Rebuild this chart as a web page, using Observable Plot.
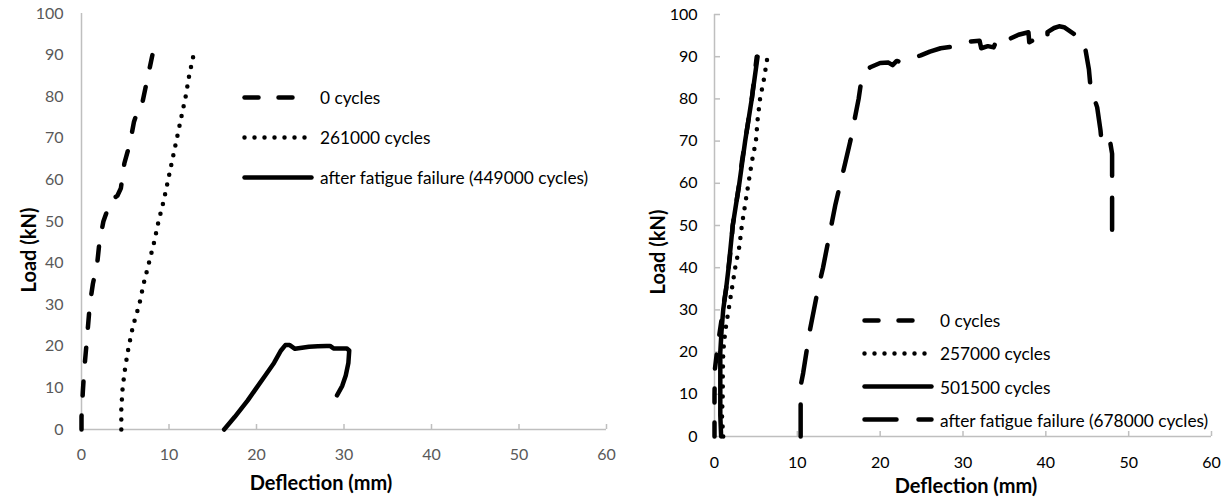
<!DOCTYPE html>
<html><head><meta charset="utf-8">
<script src="https://cdn.jsdelivr.net/npm/d3@7"></script>
<script src="https://cdn.jsdelivr.net/npm/@observablehq/plot@0.6"></script>
<style>
body{margin:0;background:#fff;font-family:Lato,"Open Sans",sans-serif;}
#wrap{position:relative;width:1228px;height:498px;overflow:hidden;background:#fff;}
.panel{position:absolute;top:0;}
.ytitle{position:absolute;transform:translate(-50%,-50%) rotate(-90deg);font-weight:bold;font-size:20px;white-space:nowrap;color:#000;}
.xtitle{position:absolute;transform:translate(-50%,-50%);font-weight:bold;font-size:20px;white-space:nowrap;color:#000;}
.lg{position:absolute;display:flex;align-items:center;transform:translateY(-50%);font-size:17.3px;white-space:nowrap;color:#000;}
.lg svg{display:block;margin-right:6px;}
</style>
</head><body>
<div id="wrap"></div>
<script>
// ---------- data ----------
const xTicks = [0, 10, 20, 30, 40, 50, 60];
const yTicks = [0, 10, 20, 30, 40, 50, 60, 70, 80, 90, 100];

// Left panel
const leftNames = ["0 cycles", "261000 cycles", "after fatigue failure (449000 cycles)"];
const L0_x = [0, 0, 0.15, 0.3, 0.55, 0.75, 0.95, 1.3, 1.8, 2.05, 2.5, 3.0, 3.3, 4.1, 4.5, 4.9, 5.3, 5.6, 6.0, 6.5, 6.9, 7.0, 7.3, 7.6, 7.9, 8.1];
const L0_y = [0, 3, 9, 14, 20, 25, 30, 35, 40, 45, 50, 53, 55, 56.2, 58, 64, 67, 69.5, 74, 77, 77.5, 79, 82, 85, 88, 90];
const L1_x = [4.55, 4.55, 4.7, 5.0, 5.4, 5.9, 6.6, 7.1, 7.7, 8.3, 8.8, 9.4, 9.9, 10.4, 10.9, 11.4, 11.9, 12.3, 12.8];
const L1_y = [0, 5, 10, 15, 20, 25, 30, 35, 40, 45, 50, 55, 60, 65, 70, 75, 80, 85, 90];
const L2_x = [16.3, 17.5, 19, 20, 21, 22, 22.8, 23.3, 23.8, 24.4, 25, 26, 27, 28, 28.4, 28.8, 30.3, 30.6, 30.5, 30.2, 29.8, 29.2];
const L2_y = [0, 3, 7, 10, 13, 16, 19, 20.3, 20.3, 19.4, 19.6, 19.9, 20, 20.1, 20.1, 19.5, 19.5, 19, 16, 13, 10.5, 8.2];

// Right panel
const rightNames = ["0 cycles", "257000 cycles", "501500 cycles", "after fatigue failure (678000 cycles)"];
const R0_x = [0, 0, 0, 0.05, 0.3, 0.5, 0.8, 1.0, 1.4, 1.7, 2.0, 2.2, 2.6, 3.0, 3.3, 3.7, 4.1, 4.5, 4.8, 5.1];
const R0_y = [0, 5, 10, 16, 20, 23, 27, 30, 35, 40, 45, 50, 55, 60, 65, 70, 75, 80, 85, 90];
const R1_x = [1.05, 0.9, 1.0, 1.0, 1.05, 1.3, 1.7, 2.1, 2.5, 3.0, 3.3, 3.7, 4.1, 4.5, 5.0, 5.2, 5.5, 6.0, 6.4];
const R1_y = [0, 5, 10, 15, 20, 25, 30, 35, 40, 45, 50, 55, 60, 65, 70, 75, 80, 85, 90];
const R2_x = [0.8, 0.7, 0.7, 0.7, 0.7, 0.85, 1.05, 1.4, 1.7, 1.95, 2.2, 2.6, 3.0, 3.35, 3.7, 4.1, 4.5, 4.85, 5.2];
const R2_y = [0, 5, 10, 15, 20, 25, 30, 35, 40, 45, 50, 55, 60, 65, 70, 75, 80, 85, 90];
const R3_x = [10.4, 10.4, 10.4, 10.7, 11.1, 11.5, 12.0, 12.5, 13.1, 13.6, 14.1, 14.6, 15.2, 15.8, 16.4, 16.9, 17.4, 17.7, 18.2, 18.8, 20, 21, 21.5, 22, 22.5, 23.3, 24.9, 26, 27.3, 28.5, 30.5, 32, 32.2, 33, 33.7, 34.2, 35.4, 36.7, 37.9, 38, 39, 40.2, 40.2, 41, 41.6, 42.2, 43.4, 44.2, 44.4, 44.8, 45.2, 45.4, 46.2, 46.6, 46.8, 47.5, 47.8, 48, 48, 48, 48];
const R3_y = [0, 6, 12, 15, 20, 25, 30, 35, 40, 45, 50, 55, 60, 65, 70, 75, 80, 84, 86.5, 87.5, 88.5, 88.6, 88, 89, 88.7, 89.4, 90.3, 91.2, 92, 92.3, 93.5, 93.8, 92, 92.5, 92.2, 94.6, 94, 95.2, 95.8, 93.4, 94.5, 94, 95.8, 96.8, 97.2, 97, 95.4, 94.6, 93, 91.5, 87, 82.7, 78, 72.5, 68.5, 69, 69.4, 67, 63.8, 55, 46.4];

// ---------- helpers ----------
const zip = (xs, ys) => xs.map((x, i) => ({x, y: ys[i]}));
const DASH = "14,20", DOT = "0,10", SOLID = null, LONGDASH = "32,22";
const SW = 4.5;
const AXIS = "#bfbfbf";

function seriesMark(xs, ys, dash) {
  const o = {x: "x", y: "y", stroke: "#000", strokeWidth: SW, strokeLinecap: "round", strokeLinejoin: "round"};
  if (dash) o.strokeDasharray = dash;
  return Plot.line(zip(xs, ys), o);
}

function panel(opts, series) {
  const marks = [
    Plot.ruleY([0], {stroke: AXIS, strokeWidth: 1.5}),
    Plot.ruleX([0], {stroke: AXIS, strokeWidth: 1.5}),
    Plot.ruleX(xTicks.filter(d => d > 0), {x: d => d, y1: 0, y2: 0, insetTop: -5, stroke: AXIS, strokeWidth: 1.5}),
    Plot.axisX({ticks: xTicks, tickSize: 0, tickPadding: opts.xpad, label: null, tickFormat: d => String(d)}),
    Plot.axisY({ticks: yTicks, tickSize: 0, tickPadding: opts.ypad, label: null, tickFormat: d => String(d)})
  ];
  if (opts.yTickMarks) {
    marks.push(Plot.ruleY(yTicks.filter(d => d > 0), {y: d => d, x1: 0, x2: 0, insetRight: -6, stroke: AXIS, strokeWidth: 1.5}));
  }
  return Plot.plot({
    width: opts.width, height: 498,
    marginLeft: opts.ml, marginRight: opts.mr, marginTop: opts.mt, marginBottom: opts.mb,
    style: {fontFamily: "Lato, 'Open Sans', sans-serif", fontSize: "16px", color: opts.tickColor, background: "transparent"},
    x: {domain: [0, 60]},
    y: {domain: [0, 100]},
    marks: [...marks, ...series.map(s => seriesMark(s[0], s[1], s[2]))]
  });
}

const wrap = document.getElementById("wrap");

function place(el, left) {
  el.classList.add("panel");
  el.style.left = left + "px";
  wrap.appendChild(el);
}

const leftSeries = [[L0_x, L0_y, DASH], [L1_x, L1_y, DOT], [L2_x, L2_y, SOLID]];
const rightSeries = [[R0_x, R0_y, DASH], [R1_x, R1_y, DOT], [R2_x, R2_y, SOLID], [R3_x, R3_y, LONGDASH]];

place(panel({width: 620, ml: 81, mr: 14, mt: 13, mb: 69, xpad: 19, ypad: 18, tickColor: "#595959", yTickMarks: false}, leftSeries), 0);
place(panel({width: 588, ml: 74, mr: 17, mt: 14, mb: 62, xpad: 20, ypad: 17, tickColor: "#000", yTickMarks: true}, rightSeries), 640);

function addText(cls, txt, x, y) {
  const d = document.createElement("div");
  d.className = cls; d.textContent = txt;
  d.style.left = x + "px"; d.style.top = y + "px";
  wrap.appendChild(d);
}
addText("ytitle", "Load (kN)", 28, 250);
addText("xtitle", "Deflection (mm)", 321, 482);
addText("ytitle", "Load (kN)", 657, 252);
addText("xtitle", "Deflection (mm)", 966, 485);

function legendRow(name, dash, x, y) {
  const d = document.createElement("div");
  d.className = "lg";
  d.style.left = x + "px"; d.style.top = y + "px";
  const svg = d3.create("svg").attr("width", 72).attr("height", 10);
  const ln = svg.append("line").attr("x1", 2.5).attr("x2", 69.5).attr("y1", 5).attr("y2", 5)
    .attr("stroke", "#000").attr("stroke-width", SW).attr("stroke-linecap", "round");
  if (dash) ln.attr("stroke-dasharray", dash);
  d.appendChild(svg.node());
  const s = document.createElement("span"); s.textContent = name; d.appendChild(s);
  wrap.appendChild(d);
}
const leftDashes = [DASH, DOT, SOLID];
leftNames.forEach((n, i) => legendRow(n, leftDashes[i], 242, 97 + i * 40));
const rightDashes = [DASH, DOT, SOLID, LONGDASH];
rightNames.forEach((n, i) => legendRow(n, rightDashes[i], 862, 320 + i * 33.3));
</script>
</body></html>
